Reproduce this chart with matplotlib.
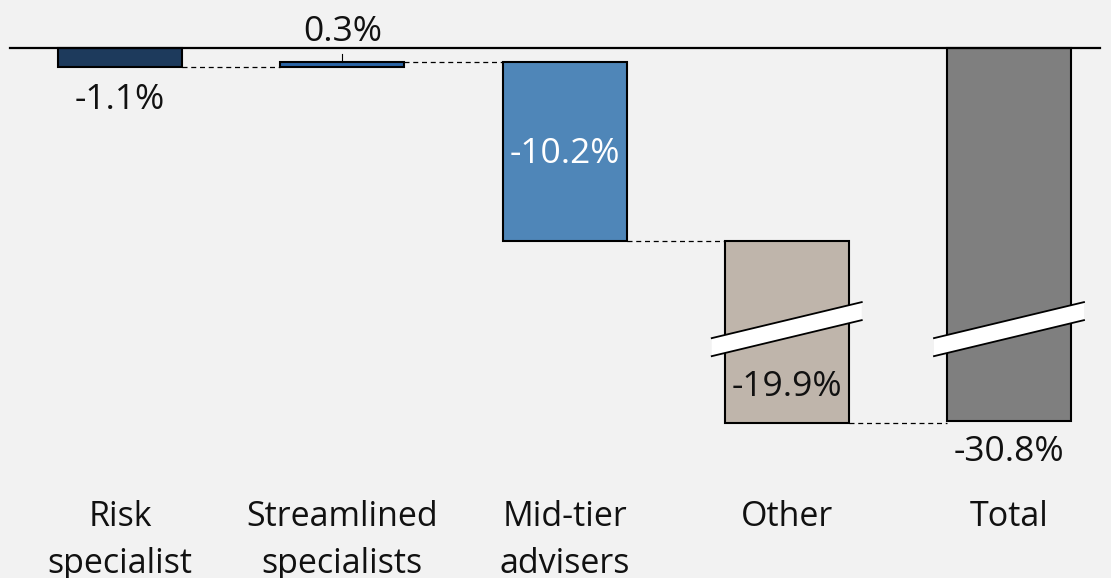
import matplotlib

matplotlib.use("Agg")
import matplotlib.pyplot as plt
import numpy as np
from matplotlib.patches import Polygon

plt.rcParams["font.family"] = ["Open Sans", "DejaVu Sans"]

# data
categories = ["Risk\nspecialist", "Streamlined\nspecialists", "Mid-tier\nadvisers", "Other", "Total"]
changes = [-1.1, 0.3, -10.2, -19.9]
total = -30.8
colors = ["#1d3a5c", "#2b65a6", "#4f86b8", "#bfb5ab", "#7f7f7f"]

# axis break: the drawing hides this many points below BREAK_LEVEL
BREAK_CUT = 9.5
BREAK_LEVEL = -15.0
PX = 17.5  # pixels per percentage point
ZERO_PX = 48
W, H = 1111, 578


def disp(v):
    v = np.asarray(v, dtype=float)
    return np.where(v < BREAK_LEVEL - 1, v + BREAK_CUT, v)


fig = plt.figure(figsize=(W / 100, H / 100), dpi=100, facecolor="#f2f2f2")
ax = fig.add_axes([0, 0, 1, 1])
ax.set_facecolor("#f2f2f2")
step = 222.25
x0 = 120
ax.set_xlim(-x0 / step, (W - x0) / step)
ax.set_ylim(-(H - ZERO_PX) / PX, ZERO_PX / PX)
ax.axis("off")

x = np.arange(len(categories))
starts = np.concatenate([[0], np.cumsum(changes)[:-1]])
ends = np.cumsum(changes)
bottoms = list(np.minimum(starts, ends)) + [total]
tops = list(np.maximum(starts, ends)) + [0]
width = 124 / step

d_bot = disp(bottoms)
d_top = disp(tops)
ax.bar(x, d_top - d_bot, bottom=d_bot, width=width, color=colors,
       edgecolor="black", linewidth=1.5, zorder=3)

ax.axhline(0, xmin=10 / W, xmax=1100 / W, color="black", lw=1.6, zorder=4)

# connectors
levels = list(ends)
for i in range(len(categories) - 1):
    y = disp(levels[i]) if i < len(levels) else disp(total)
    ax.plot([x[i] + width / 2, x[i + 1] - width / 2], [y, y],
            ls=(0, (4, 3)), color="black", lw=0.9, zorder=2)

# break marks on Other and Total
slope = 3.05
half = 75 / step
thick = 1.03
for i in [3, 4]:
    yc = BREAK_LEVEL - 0.55
    xl, xr = x[i] - half, x[i] + half
    yl, yr = yc - slope * half, yc + slope * half
    poly = Polygon([[xl, yl], [xr, yr], [xr, yr - thick], [xl, yl - thick]],
                   closed=True, facecolor="white", edgecolor="none", zorder=5)
    ax.add_patch(poly)
    ax.plot([xl, xr], [yl, yr], color="black", lw=1.3, zorder=6)
    ax.plot([xl, xr], [yl - thick, yr - thick], color="black", lw=1.3, zorder=6)

fs = 25.5
txt = "#111111"
# value labels
ax.annotate(f"{changes[0]:.1f}%", (x[0], d_bot[0]), xytext=(0, -33),
            textcoords="offset pixels", ha="center", va="center", fontsize=fs, color=txt)
ax.annotate(f"{changes[1]:.1f}%", (x[1], d_top[1]), xytext=(0, 30),
            textcoords="offset pixels", ha="center", va="center", fontsize=fs, color=txt)
ax.plot([x[1], x[1]], [d_top[1], d_top[1] + 8 / PX], color="black", lw=0.8, zorder=4)
ax.text(x[2], (d_top[2] + d_bot[2]) / 2 - 3 / PX, f"{changes[2]:.1f}%", ha="center",
        va="center", fontsize=fs, color="white", zorder=6)
ax.annotate(f"{changes[3]:.1f}%", (x[3], d_bot[3]), xytext=(0, 36),
            textcoords="offset pixels", ha="center", va="center", fontsize=fs, color=txt,
            zorder=7)
ax.annotate(f"{total:.1f}%", (x[4], d_bot[4]), xytext=(0, -31),
            textcoords="offset pixels", ha="center", va="center", fontsize=fs, color=txt)

# category labels
for xi, lab in zip(x, categories):
    ax.text(xi, -(500 - ZERO_PX) / PX, lab, ha="center", va="top",
            fontsize=24.5, color=txt, linespacing=1.5)

fig.savefig("out.png", dpi=100, facecolor=fig.get_facecolor())
